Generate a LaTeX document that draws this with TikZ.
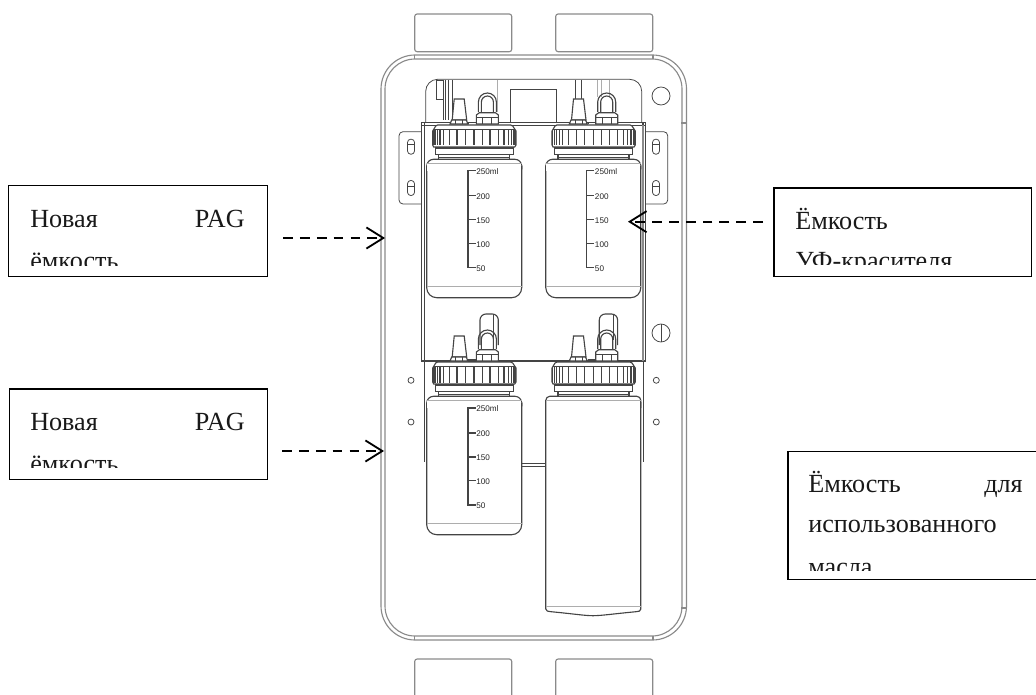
\documentclass[tikz,border=0pt]{standalone}
\usepackage{fontspec}
\setmainfont{Liberation Serif}
\newfontfamily\scalefont{Liberation Sans}
\usepackage{xcolor}
\usetikzlibrary{
    arrows.meta,
    calc,
    positioning
}
\definecolor{panelgray}{HTML}{8A8A8A}
\definecolor{linedark}{HTML}{444444}
\tikzset{
    panelline/.style={draw=panelgray, line width=0.8pt},
    bottleline/.style={draw=linedark, line width=0.8pt},
    thinline/.style={draw=linedark, line width=0.55pt},
    palegray/.style={draw=panelgray!70, line width=0.6pt},
    calloutbox/.style={draw=black, line width=1pt, fill=white, inner sep=0pt, minimum width=0.025cm*#1},
    callouttext/.style={inner sep=0pt, font=\fontsize{18.6}{20}\selectfont, text=black!90},
    calloutarrow/.style={draw=black, line width=1.2pt, dash pattern=on 7pt off 5pt,
        -{Straight Barb[length=12pt, width=15pt, line width=1.3pt]}},
    scalelabel/.style={inner sep=0pt, anchor=west, text=black!85,
        font=\scalefont\fontsize{5.8}{6}\selectfont}
}
\newcommand{\bottlecap}[2]{
    \begin{scope}[shift={(#1, #2)}]
        \draw[bottleline, fill=white] (1, 22) -- (0, 20) -- (0, 6) -- (3, 1) -- (5, 0) -- (78, 0)
            -- (80, 1) -- (83.3, 6) -- (83.3, 20) -- (82, 22) -- cycle;
        \draw[thinline] (1, 4.5) -- (82, 4.5);
        \foreach \rib in {0.7, 2.3, 4.7, 7.3, 10.7, 16.7, 24.3, 32.7, 41.3, 49.7, 57.3, 65.7, 71.3, 75.7, 79, 81.3, 82.7}
            \draw[bottleline] (\rib, 5) -- (\rib, 20.5);
        \draw[bottleline, fill=white] (2.5, 23) rectangle (80.5, 29.5);
        \draw[bottleline] (6, 29.5) -- (6, 34.3) (77, 29.5) -- (77, 34.3);
        \draw[thinline] (6, 32) -- (77, 32);
        \draw[bottleline, fill=white] (19.5, -5) -- (21.5, -26) -- (31.5, -26) -- (34, -5) -- cycle;
        \draw[bottleline, fill=white] (17.3, -1) -- (19, -5) -- (33.5, -5) -- (35.3, -1) -- cycle;
        \draw[thinline] (23, -5) -- (23, -1) (30, -5) -- (30, -1);
        \draw[bottleline] (45.7, -13) -- (45.7, -23) arc[start angle=180, end angle=360, radius=9] -- (63.7, -13);
        \draw[bottleline] (48.7, -13) -- (48.7, -23) arc[start angle=180, end angle=360, radius=6] -- (60.7, -13);
        \draw[bottleline, fill=white] (43.7, -1) -- (43.7, -10) -- (46.7, -12.3) -- (62.7, -12.3) -- (65.7, -10) -- (65.7, -1) -- cycle;
        \draw[thinline] (43.7, -8) -- (65.7, -8) (50, -8) -- (50, -1) (59, -8) -- (59, -1);
        \draw[thinline] (36, -1) -- (36, -3) -- (43, -3);
    \end{scope}
}
\newcommand{\tubeback}[2]{
    \begin{scope}[shift={(#1, #2)}]
        \draw[bottleline, rounded corners=0.15cm] (47.3, -17) -- (47.3, -48) -- (65.6, -48) -- (65.6, -17);
        \draw[thinline] (61, -47) -- (61, -22);
    \end{scope}
}
\newcommand{\bottlebody}[3]{
    \begin{scope}[shift={(#1, #2)}]
        \draw[bottleline, fill=white, rounded corners=0.17cm] (0, 10) -- (0, 0) -- (95, 0) -- (95, 10);
        \draw[bottleline, fill=white, rounded corners=0.25cm] (0, 6) -- (0, #3) -- (95, #3) -- (95, 6);
        \draw[draw=none, fill=white] (0.4, 5) rectangle (94.6, 12);
        \draw[palegray] (0, 4.5) -- (95, 4.5);
        \draw[palegray] (0, #3 - 11.7) -- (95, #3 - 11.7);
    \end{scope}
}
\newcommand{\bottlescale}[3]{
    \begin{scope}[shift={(#2, #3)}]
        \draw[bottleline] (7.5, 0) -- (0, 0) -- (0, 97) -- (7.5, 97);
        \foreach \mark/\val in {25/200, 49/150, 72.6/100}
            \draw[bottleline] (0, \mark) -- (7.5, \mark);
        \foreach \mark/\val in {0/250ml, 25/200, 49/150, 72.6/100, 97/50}
            \node[scalelabel] (#1\val) at (8, \mark + 1) {\val};
    \end{scope}
}
\begin{document}
\begin{tikzpicture}[x=0.025cm, y=-0.025cm]
    \useasboundingbox (0, 0) rectangle (1036, 695);
    \foreach \col in {414.7, 555.7} {
        \draw[panelline, rounded corners=0.06cm] (\col, 14) rectangle ++(97, 37.7);
        \draw[panelline, rounded corners=0.06cm] (\col, 696) -- (\col, 659) -- ++(97, 0) -- ++(0, 37);
    }
    \draw[panelline, rounded corners=0.85cm] (381, 55) rectangle (686.5, 640);
    \draw[panelline, rounded corners=0.75cm] (385, 59) rectangle (682, 636);
    \foreach \col in {414.7, 653}
        \draw[panelline] (\col, 55) -- (\col, 59) (\col, 636) -- (\col, 640);
    \draw[panelline] (681, 123) -- (686, 123) (681, 608) -- (686, 608);
    \foreach \col in {399, 625.7} {
        \draw[thinline, rounded corners=0.1cm] (\col, 131.7) rectangle ++(42, 72.3);
    }
    \draw[thinline, rounded corners=0.3cm] (425.7, 123) -- (425.7, 79.3) -- (641.7, 79.3) -- (641.7, 123);
    \draw[thinline] (510.7, 123) -- (510.7, 89) -- (556, 89) -- (556, 123);
    \draw[thinline] (436, 80) rectangle (443, 99);
    \draw[thinline] (443, 80) -- (443, 120) (445, 80) -- (445, 120) (448, 80) -- (448, 120) (452, 80) -- (452, 120);
    \draw[palegray] (497, 80) -- (497, 112);
    \draw[thinline] (575, 80) -- (575, 100) (581, 80) -- (581, 100);
    \draw[palegray] (597, 80) -- (597, 97) (601, 80) -- (601, 97) (609, 80) -- (609, 97);
    \draw[bottleline, fill=white] (421.7, 122.7) rectangle (645.7, 361.7);
    \draw[bottleline] (424.4, 123) -- (424.4, 361.7) (643, 123) -- (643, 361.7);
    \draw[thinline] (421.7, 125) -- (645.7, 125) (421.7, 360) -- (645.7, 360);
    \draw[panelline] (643, 125) -- (643, 361);
    \foreach \row in {146.7, 188} {
        \foreach \col in {411, 656} {
            \draw[thinline, rounded corners=0.08cm] (\col - 3.5, \row - 7.5) rectangle (\col + 3.5, \row + 7.5);
            \draw[thinline] (\col - 3.5, \row - 2) -- (\col + 3.5, \row - 2);
        }
    }
    \foreach \row in {380.3, 422} {
        \foreach \col in {411, 656.3} {
            \draw[thinline] (\col, \row) circle[radius=3];
        }
    }
    \draw[thinline] (661, 96) circle[radius=9];
    \draw[thinline] (661, 333) circle[radius=9];
    \draw[thinline] (661, 324) -- (661, 342);
    \draw[thinline] (424.4, 362) -- (424.4, 462) (643, 362) -- (643, 462);
    \draw[thinline] (521, 463) -- (546, 463) (521, 466.3) -- (546, 466.3);
    \tubeback{432.7}{362}
    \tubeback{552}{362}
    \bottlebody{426.7}{159.3}{138.4}
    \bottlebody{545.8}{159.3}{138.4}
    \bottlebody{426.7}{396.3}{138.4}
    \bottlecap{432.7}{125}
    \bottlecap{552}{125}
    \bottlecap{432.7}{362}
    \bottlecap{552}{362}
    \draw[bottleline, fill=white, rounded corners=0.1cm] (545.8, 408) -- (545.8, 396.3) -- (640.8, 396.3) -- (640.8, 408);
    \draw[bottleline, fill=white] (545.8, 402) -- (545.8, 609) .. controls (546, 611) and (548, 611.7) .. (551, 611.7)
        .. controls (575, 614) and (585, 615.7) .. (593, 615.7) .. controls (601, 615.7) and (612, 614) .. (636, 611.7)
        .. controls (639, 611.7) and (640.6, 611) .. (640.8, 609) -- (640.8, 402);
    \draw[palegray] (545.8, 400) -- (640.8, 400) (545.8, 606.7) -- (640.8, 606.7);
    \bottlescale{scaleA}{468}{170.7}
    \bottlescale{scaleB}{586.7}{170.7}
    \bottlescale{scaleC}{468}{408}
    \node[calloutbox=258.7, minimum height=0.025cm*90.7, anchor=north west] (pagtop) at (8, 185) {};
    \node[calloutbox=258.2, minimum height=0.025cm*90.7, anchor=north west] (pagbottom) at (8.5, 388.3) {};
    \node[calloutbox=257.4, minimum height=0.025cm*88.4, anchor=north west] (dyebox) at (773.3, 187.3) {};
    \node[calloutbox=260, minimum height=0.025cm*128, anchor=north west] (oilbox) at (787.3, 451) {};
    \begin{scope}
        \clip (9, 186) rectangle (266, 265);
        \node[callouttext, anchor=base west] (pagtopa) at (30, 227) {Новая};
        \node[callouttext, anchor=base east] (pagtopb) at (245, 227) {PAG};
        \node[callouttext, anchor=base west] (pagtopc) at (30, 269.5) {ёмкость};
    \end{scope}
    \begin{scope}
        \clip (9, 389) rectangle (266, 467.7);
        \node[callouttext, anchor=base west] (pagbottoma) at (30, 430) {Новая};
        \node[callouttext, anchor=base east] (pagbottomb) at (245, 430) {PAG};
        \node[callouttext, anchor=base west] (pagbottomc) at (30, 472) {ёмкость};
    \end{scope}
    \begin{scope}
        \clip (774, 188) rectangle (1030, 264);
        \node[callouttext, anchor=base west] (dyea) at (795, 229) {Ёмкость};
        \node[callouttext, anchor=base west] (dyeb) at (795, 269.5) {УФ-красителя};
    \end{scope}
    \begin{scope}
        \clip (788, 452) rectangle (1036, 570);
        \node[callouttext, anchor=base west] (oila) at (808, 492) {Ёмкость};
        \node[callouttext, anchor=base east] (oilb) at (1023, 492) {для};
        \node[callouttext, anchor=base west] (oilc) at (808, 532.7) {использованного};
        \node[callouttext, anchor=base west] (oild) at (808, 575) {масла};
    \end{scope}
    \coordinate (tailtop) at (283, 238);
    \coordinate (tiptop) at (385, 238);
    \coordinate (tailbottom) at (282, 451);
    \coordinate (tipbottom) at (384, 451);
    \coordinate (taildye) at (763, 221.7);
    \coordinate (tipdye) at (628, 221.7);
    \draw[calloutarrow] (tailtop) -- (tiptop);
    \draw[calloutarrow] (tailbottom) -- (tipbottom);
    \draw[calloutarrow] (taildye) -- (tipdye);
\end{tikzpicture}
\end{document}
